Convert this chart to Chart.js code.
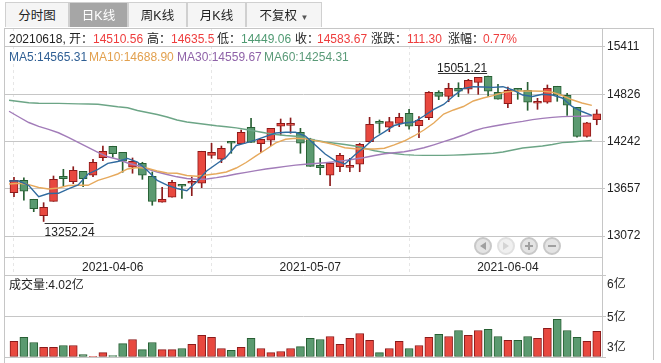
<!DOCTYPE html>
<html>
<head>
<meta charset="utf-8">
<script src="https://cdn.jsdelivr.net/npm/chart.js@4/dist/chart.umd.min.js"></script>
<style>
    html, body { margin: 0; padding: 0; background: #fff; }
    body { width: 661px; height: 363px; position: relative; overflow: hidden;
           font: 12px "Liberation Sans", "Noto Sans CJK SC", sans-serif; color: #222; }
    canvas { position: absolute; left: 0; }
    #chartPrice { top: 0; }
    #chartVolume { top: 270px; }
    .line { position: absolute; background: #c6c6c6; }
    .tab { position: absolute; top: 2px; height: 25px; line-height: 26px; text-align: center;
           background: #f5f5f5; border: 1px solid #d0d0d0; border-bottom: 0; box-sizing: border-box; font-size: 12.5px; }
    .tab.on { background: #a6a6a6; color: #fff; }
    .txt { position: absolute; white-space: nowrap; line-height: 14px; }
    .red { color: #ee3d3d; }
    .green { color: #4f9a72; }
    #pager { position: absolute; left: 470px; top: 233px; }
</style>
</head>
<body>
<canvas id="chartPrice" width="661" height="275"></canvas>
<canvas id="chartVolume" width="661" height="93"></canvas>

<div class="line" style="left:4px;top:28px;width:1px;height:335px"></div>
<div class="line" style="left:4px;top:28px;width:649px;height:1px"></div>
<div class="line" style="left:4px;top:257px;width:598px;height:1px"></div>
<div class="line" style="left:602px;top:28px;width:1px;height:330px"></div>
<div class="line" style="left:653px;top:28px;width:1px;height:332px"></div>

<div class="tab" style="left:5px;width:64px">分时图</div>
<div class="tab on" style="left:69px;width:59px">日K线</div>
<div class="tab" style="left:128px;width:59px">周K线</div>
<div class="tab" style="left:187px;width:59px">月K线</div>
<div class="tab" style="left:246px;width:76px">不复权 <span style="font-size:8px;color:#555">▼</span></div>

<div class="txt" style="left:9px;top:32px">20210618, 开：</div>
<div class="txt red" style="left:93px;top:32px">14510.56</div>
<div class="txt" style="left:147px;top:32px">高：</div>
<div class="txt red" style="left:171px;top:32px">14635.5</div>
<div class="txt" style="left:217px;top:32px">低：</div>
<div class="txt green" style="left:241px;top:32px">14449.06</div>
<div class="txt" style="left:295px;top:32px">收：</div>
<div class="txt red" style="left:317px;top:32px">14583.67</div>
<div class="txt" style="left:371px;top:32px">涨跌：</div>
<div class="txt red" style="left:407px;top:32px">111.30</div>
<div class="txt" style="left:448px;top:32px">涨幅：</div>
<div class="txt red" style="left:483px;top:32px">0.77%</div>

<div class="txt" style="left:9px;top:50px;color:#2f5f94">MA5:14565.31</div>
<div class="txt" style="left:89px;top:50px;color:#e2a04e">MA10:14688.90</div>
<div class="txt" style="left:177px;top:50px;color:#8f62a8">MA30:14559.67</div>
<div class="txt" style="left:264px;top:50px;color:#5a9a78">MA60:14254.31</div>

<div class="txt" style="left:9px;top:278px">成交量:4.02亿</div>

<svg id="pager" width="96" height="26">
    <g fill="#e4e4e4" stroke="#c8c8c8" stroke-width="2">
        <circle cx="13" cy="13" r="8"/>
        <circle cx="36" cy="13" r="8" fill="#f0f0f0" stroke="#e0e0e0"/>
        <circle cx="59" cy="13" r="8"/>
        <circle cx="82" cy="13" r="8"/>
    </g>
    <path d="M16 9 L10 13 L16 17 Z" fill="#a0a0a0"/>
    <path d="M33 9 L39 13 L33 17 Z" fill="#d4d4d4"/>
    <path d="M55 13 H63 M59 9 V17 M78 13 H86" stroke="#a0a0a0" stroke-width="2"/>
</svg>

<script>
// trading days
const dates = [
    "2021-03-22", "2021-03-23", "2021-03-24", "2021-03-25", "2021-03-26", "2021-03-29", "2021-03-30", "2021-03-31", "2021-04-01", "2021-04-02",
    "2021-04-06", "2021-04-07", "2021-04-08", "2021-04-09", "2021-04-12", "2021-04-13", "2021-04-14", "2021-04-15", "2021-04-16", "2021-04-19",
    "2021-04-20", "2021-04-21", "2021-04-22", "2021-04-23", "2021-04-26", "2021-04-27", "2021-04-28", "2021-04-29", "2021-04-30", "2021-05-06",
    "2021-05-07", "2021-05-10", "2021-05-11", "2021-05-12", "2021-05-13", "2021-05-14", "2021-05-17", "2021-05-18", "2021-05-19", "2021-05-20",
    "2021-05-21", "2021-05-24", "2021-05-25", "2021-05-26", "2021-05-27", "2021-05-28", "2021-05-31", "2021-06-01", "2021-06-02", "2021-06-03",
    "2021-06-04", "2021-06-07", "2021-06-08", "2021-06-09", "2021-06-10", "2021-06-11", "2021-06-15", "2021-06-16", "2021-06-17", "2021-06-18"
];
const opens = [
    13609, 13762, 13527, 13324, 13502, 13812, 13745, 13873, 13824, 14042,
    14183, 14108, 13923, 13972, 13812, 13490, 13552, 13713, 13725, 13725,
    14069, 14022, 14227, 14215, 14418, 14215, 14257, 14430, 14442, 14356,
    14273, 13948, 13824, 13930, 13922, 13960, 14240, 14475, 14418, 14467,
    14591, 14437, 14536, 14851, 14801, 14900, 14888, 14974, 15049, 14851,
    14710, 14888, 14875, 14715, 14727, 14925, 14814, 14665, 14306, 14510.56
];
const closes = [
    13762, 13626, 13411, 13428, 13774, 13782, 13886, 13782, 13985, 14121,
    14091, 13997, 13997, 13824, 13502, 13527, 13737, 13688, 13732, 14121,
    14108, 14158, 14220, 14356, 14232, 14269, 14405, 14467, 14450, 14220,
    13935, 13918, 13972, 14071, 13927, 14207, 14455, 14467, 14487, 14541,
    14430, 14504, 14851, 14801, 14900, 14863, 14999, 15036, 14863, 14764,
    14875, 14875, 14727, 14727, 14900, 14814, 14690, 14306, 14472, 14583.67
];
const highs = [
    13799, 13791, 13527, 13485, 13815, 13898, 13930, 13873, 14022, 14186,
    14183, 14108, 14038, 13985, 13865, 13676, 13762, 13713, 13803, 14121,
    14220, 14186, 14240, 14384, 14529, 14269, 14405, 14520, 14533, 14405,
    14282, 14034, 13972, 14096, 14034, 14220, 14541, 14508, 14541, 14591,
    14640, 14549, 14858, 14870, 14962, 14969, 15011, 15036, 15051.21, 14950,
    14916, 14888, 14974, 14776, 14941, 14925, 14838, 14665, 14480, 14635.5
];
const lows = [
    13559, 13515, 13374, 13252.24, 13502, 13692, 13720, 13683, 13807, 14005,
    14047, 13861, 13849, 13774, 13453, 13490, 13552, 13539, 13572, 13671,
    14034, 13980, 14096, 14215, 14232, 14104, 14190, 14322, 14344, 14096,
    13935, 13831, 13695, 13868, 13868, 13868, 14227, 14344, 14363, 14425,
    14393, 14289, 14512, 14759, 14734, 14796, 14838, 14826, 14801, 14764,
    14660, 14764, 14628, 14640, 14715, 14739, 14566, 14294, 14294, 14449.06
];
const ma5 = [
    13753, 13753, 13698, 13559, 13598, 13601, 13657, 13704, 13840, 13896,
    13972, 13995, 14032, 13988, 13883, 13760, 13701, 13661, 13633, 13744,
    13877, 13964, 14050, 14193, 14224, 14261, 14306, 14347, 14356, 14356,
    14310, 14199, 14087, 14005, 13964, 14075, 14174, 14285, 14360, 14440,
    14471, 14483, 14557, 14638, 14700, 14805, 14898, 14920, 14916, 14912,
    14920, 14879, 14817, 14799, 14826, 14817, 14780, 14675, 14613, 14565.31
];
const ma10 = [
    13716, 13725, 13709, 13673, 13655, 13667, 13698, 13700, 13700, 13760,
    13799, 13840, 13902, 13920, 13911, 13877, 13852, 13849, 13821, 13812,
    13828, 13843, 13865, 13914, 13982, 14065, 14143, 14224, 14269, 14282,
    14275, 14253, 14230, 14201, 14165, 14152, 14149, 14149, 14158, 14199,
    14248, 14310, 14384, 14471, 14582, 14632, 14675, 14743, 14780, 14809,
    14848, 14867, 14867, 14867, 14863, 14851, 14811, 14758, 14718, 14688.90
];
const ma30 = [
    14616, 14545, 14477, 14428, 14391, 14350, 14292, 14230, 14168, 14108,
    14053, 14022, 13976, 13945, 13902, 13865, 13834, 13805, 13784, 13774,
    13778, 13795, 13815, 13840, 13860, 13882, 13902, 13917, 13934, 13949,
    13960, 13969, 13979, 13991, 14007, 14026, 14044, 14069, 14090, 14102,
    14115, 14137, 14164, 14201, 14240, 14279, 14322, 14372, 14407, 14430,
    14452, 14473, 14491, 14512, 14528, 14540, 14550, 14553, 14555, 14559.67
];
const ma60 = [
    14752, 14737, 14722, 14715, 14713, 14713, 14711, 14707, 14705, 14703,
    14687, 14671, 14659, 14626, 14601, 14576, 14545, 14508, 14483, 14468,
    14452, 14437, 14425, 14410, 14391, 14369, 14347, 14329, 14316, 14306,
    14285, 14257, 14236, 14220, 14205, 14186, 14159, 14127, 14108, 14094,
    14080, 14073, 14070, 14070, 14070, 14073, 14078, 14084, 14090, 14097,
    14112, 14137, 14162, 14174, 14186, 14205, 14228, 14236, 14246, 14254.31
];
const volumes = [
    3.57, 3.72, 3.53, 3.35, 3.35, 3.42, 3.42, 3.09, 3.02, 3.16,
    3.05, 3.49, 3.64, 3.27, 3.53, 3.27, 3.27, 3.31, 3.46, 3.79,
    3.72, 3.31, 3.24, 3.35, 3.68, 3.31, 3.16, 3.20, 3.31, 3.38,
    3.68, 3.64, 3.75, 3.46, 3.68, 3.86, 3.61, 3.16, 3.31, 3.57,
    3.31, 3.42, 3.72, 3.83, 3.75, 3.97, 3.79, 3.97, 4.01, 3.75,
    3.61, 3.61, 3.75, 3.68, 4.05, 4.38, 3.97, 3.72, 3.57, 3.94
];
const priceTicks = [15411, 14826, 14242, 13657, 13072];
const volumeTicks = [6, 4.5, 3];
const volumeTickLabels = ["6亿", "5亿", "3亿"];
const dateTickIndexes = [10, 30, 50];

const gridColor = "#c6c6c6";
const labelFont = '12px "Liberation Sans", "Noto Sans CJK SC", sans-serif';
const upFill = "#e8483f";
const upEdge = "#8c1a1a";
const downFill = "#5b9a70";
const downEdge = "#275f33";
const xMin = -0.91;
const xMax = 59.53;

const isUp = (i) => closes[i] >= opens[i];
const fillColors = dates.map((d, i) => isUp(i) ? upFill : downFill);
const edgeColors = dates.map((d, i) => isUp(i) ? upEdge : downEdge);

// the average lines sit half a step left of the candles
const maLine = (values, color) => ({
    type: "line",
    data: values.map((v, i) => ({ x: i - 0.5, y: v })),
    borderColor: color,
    borderWidth: 1.4,
    pointRadius: 0,
    tension: 0,
    order: 0
});

// High and low marks with the underline
const extremesPlugin = {
    id: "extremes",
    afterDatasetsDraw(chart) {
        const { ctx, scales } = chart;
        const hi = highs.indexOf(Math.max(...highs));
        const lo = lows.indexOf(Math.min(...lows));
        const hiX = scales.x.getPixelForValue(hi);
        const hiY = scales.y.getPixelForValue(highs[hi]);
        const loX = scales.x.getPixelForValue(lo);
        const loY = scales.y.getPixelForValue(lows[lo]);
        ctx.save();
        ctx.font = labelFont;
        ctx.fillStyle = "#222";
        ctx.strokeStyle = "#333";
        ctx.lineWidth = 1;
        ctx.textBaseline = "alphabetic";
        ctx.textAlign = "right";
        ctx.fillText(highs[hi].toFixed(2), hiX - 1, hiY - 4);
        ctx.beginPath();
        ctx.moveTo(hiX - 50, Math.round(hiY) - 2.5);
        ctx.lineTo(hiX - 1, Math.round(hiY) - 2.5);
        ctx.stroke();
        ctx.textAlign = "left";
        ctx.fillText(lows[lo].toFixed(2), loX + 1, loY + 15);
        ctx.beginPath();
        ctx.moveTo(loX + 1, Math.round(loY) + 2.5);
        ctx.lineTo(loX + 50, Math.round(loY) + 2.5);
        ctx.stroke();
        ctx.restore();
    }
};

// Volume labels: top one hangs below its line, bottom one sits above it
const volumeLabelsPlugin = {
    id: "volumeLabels",
    afterDraw(chart) {
        const { ctx, scales } = chart;
        const shift = [10, 2, -9];
        ctx.save();
        ctx.font = labelFont;
        ctx.fillStyle = "#222";
        ctx.textBaseline = "middle";
        volumeTicks.forEach((t, i) => {
            ctx.fillText(volumeTickLabels[i], 607, scales.y.getPixelForValue(t) + shift[i]);
        });
        ctx.restore();
    }
};

const chartPrice = new Chart(document.getElementById("chartPrice"), {
    type: "bar",
    data: {
        datasets: [
            maLine(ma5, "#2f6a9f"),
            maLine(ma10, "#e6a95c"),
            maLine(ma30, "#a27cb9"),
            maLine(ma60, "#6ca586"),
            {
                data: dates.map((d, i) => ({ x: i, y: [opens[i], closes[i]] })),
                backgroundColor: fillColors,
                borderColor: edgeColors,
                borderWidth: 1,
                borderSkipped: false,
                barThickness: 8,
                minBarLength: 2,
                order: 1
            },
            {
                data: dates.map((d, i) => ({ x: i, y: [lows[i], highs[i]] })),
                backgroundColor: edgeColors,
                borderWidth: 0,
                barThickness: 1,
                order: 2
            }
        ]
    },
    options: {
        responsive: false,
        animation: false,
        layout: { padding: { left: 5, top: 28, right: 8, bottom: 0 } },
        datasets: { bar: { grouped: false } },
        plugins: { legend: { display: false }, tooltip: { enabled: false } },
        scales: {
            x: {
                type: "linear",
                min: xMin,
                max: xMax,
                offset: false,
                afterBuildTicks: (scale) => { scale.ticks = dateTickIndexes.map(v => ({ value: v })); },
                afterFit: (scale) => { scale.height = 18; },
                grid: { color: "#e6e6e6", tickColor: "#e6e6e6", tickLength: 18, tickBorderDash: [3, 3] },
                border: { color: gridColor, dash: [3, 3], display: false },
                ticks: {
                    color: "#222",
                    font: { size: 12, family: '"Liberation Sans"' },
                    padding: -15,
                    autoSkip: false,
                    maxRotation: 0,
                    callback: (v) => dates[v]
                }
            },
            y: {
                position: "right",
                min: 12813,
                max: 15646,
                afterBuildTicks: (scale) => { scale.ticks = priceTicks.map(v => ({ value: v })); },
                afterFit: (scale) => { scale.width = 51; },
                grid: { color: gridColor, tickColor: gridColor, tickLength: 3 },
                border: { display: false },
                ticks: {
                    color: "#222",
                    font: { size: 12, family: '"Liberation Sans"' },
                    padding: 2,
                    callback: (v) => v
                }
            }
        }
    },
    plugins: [extremesPlugin]
});

const chartVolume = new Chart(document.getElementById("chartVolume"), {
    type: "bar",
    data: {
        datasets: [{
            data: dates.map((d, i) => ({ x: i, y: volumes[i] })),
            base: 3,
            backgroundColor: fillColors,
            borderColor: edgeColors,
            borderWidth: 1,
            borderSkipped: false,
            barThickness: 8
        }]
    },
    options: {
        responsive: false,
        animation: false,
        layout: { padding: { left: 5, top: 5, right: 8, bottom: 6 } },
        plugins: { legend: { display: false }, tooltip: { enabled: false } },
        scales: {
            x: { type: "linear", min: xMin, max: xMax, offset: false, display: false },
            y: {
                position: "right",
                min: 3,
                max: 6,
                afterBuildTicks: (scale) => { scale.ticks = volumeTicks.map(v => ({ value: v })); },
                afterFit: (scale) => { scale.width = 51; },
                grid: { color: gridColor, tickColor: gridColor, tickLength: 4 },
                border: { display: false },
                ticks: { display: false }
            }
        }
    },
    plugins: [volumeLabelsPlugin]
});
</script>
</body>
</html>
